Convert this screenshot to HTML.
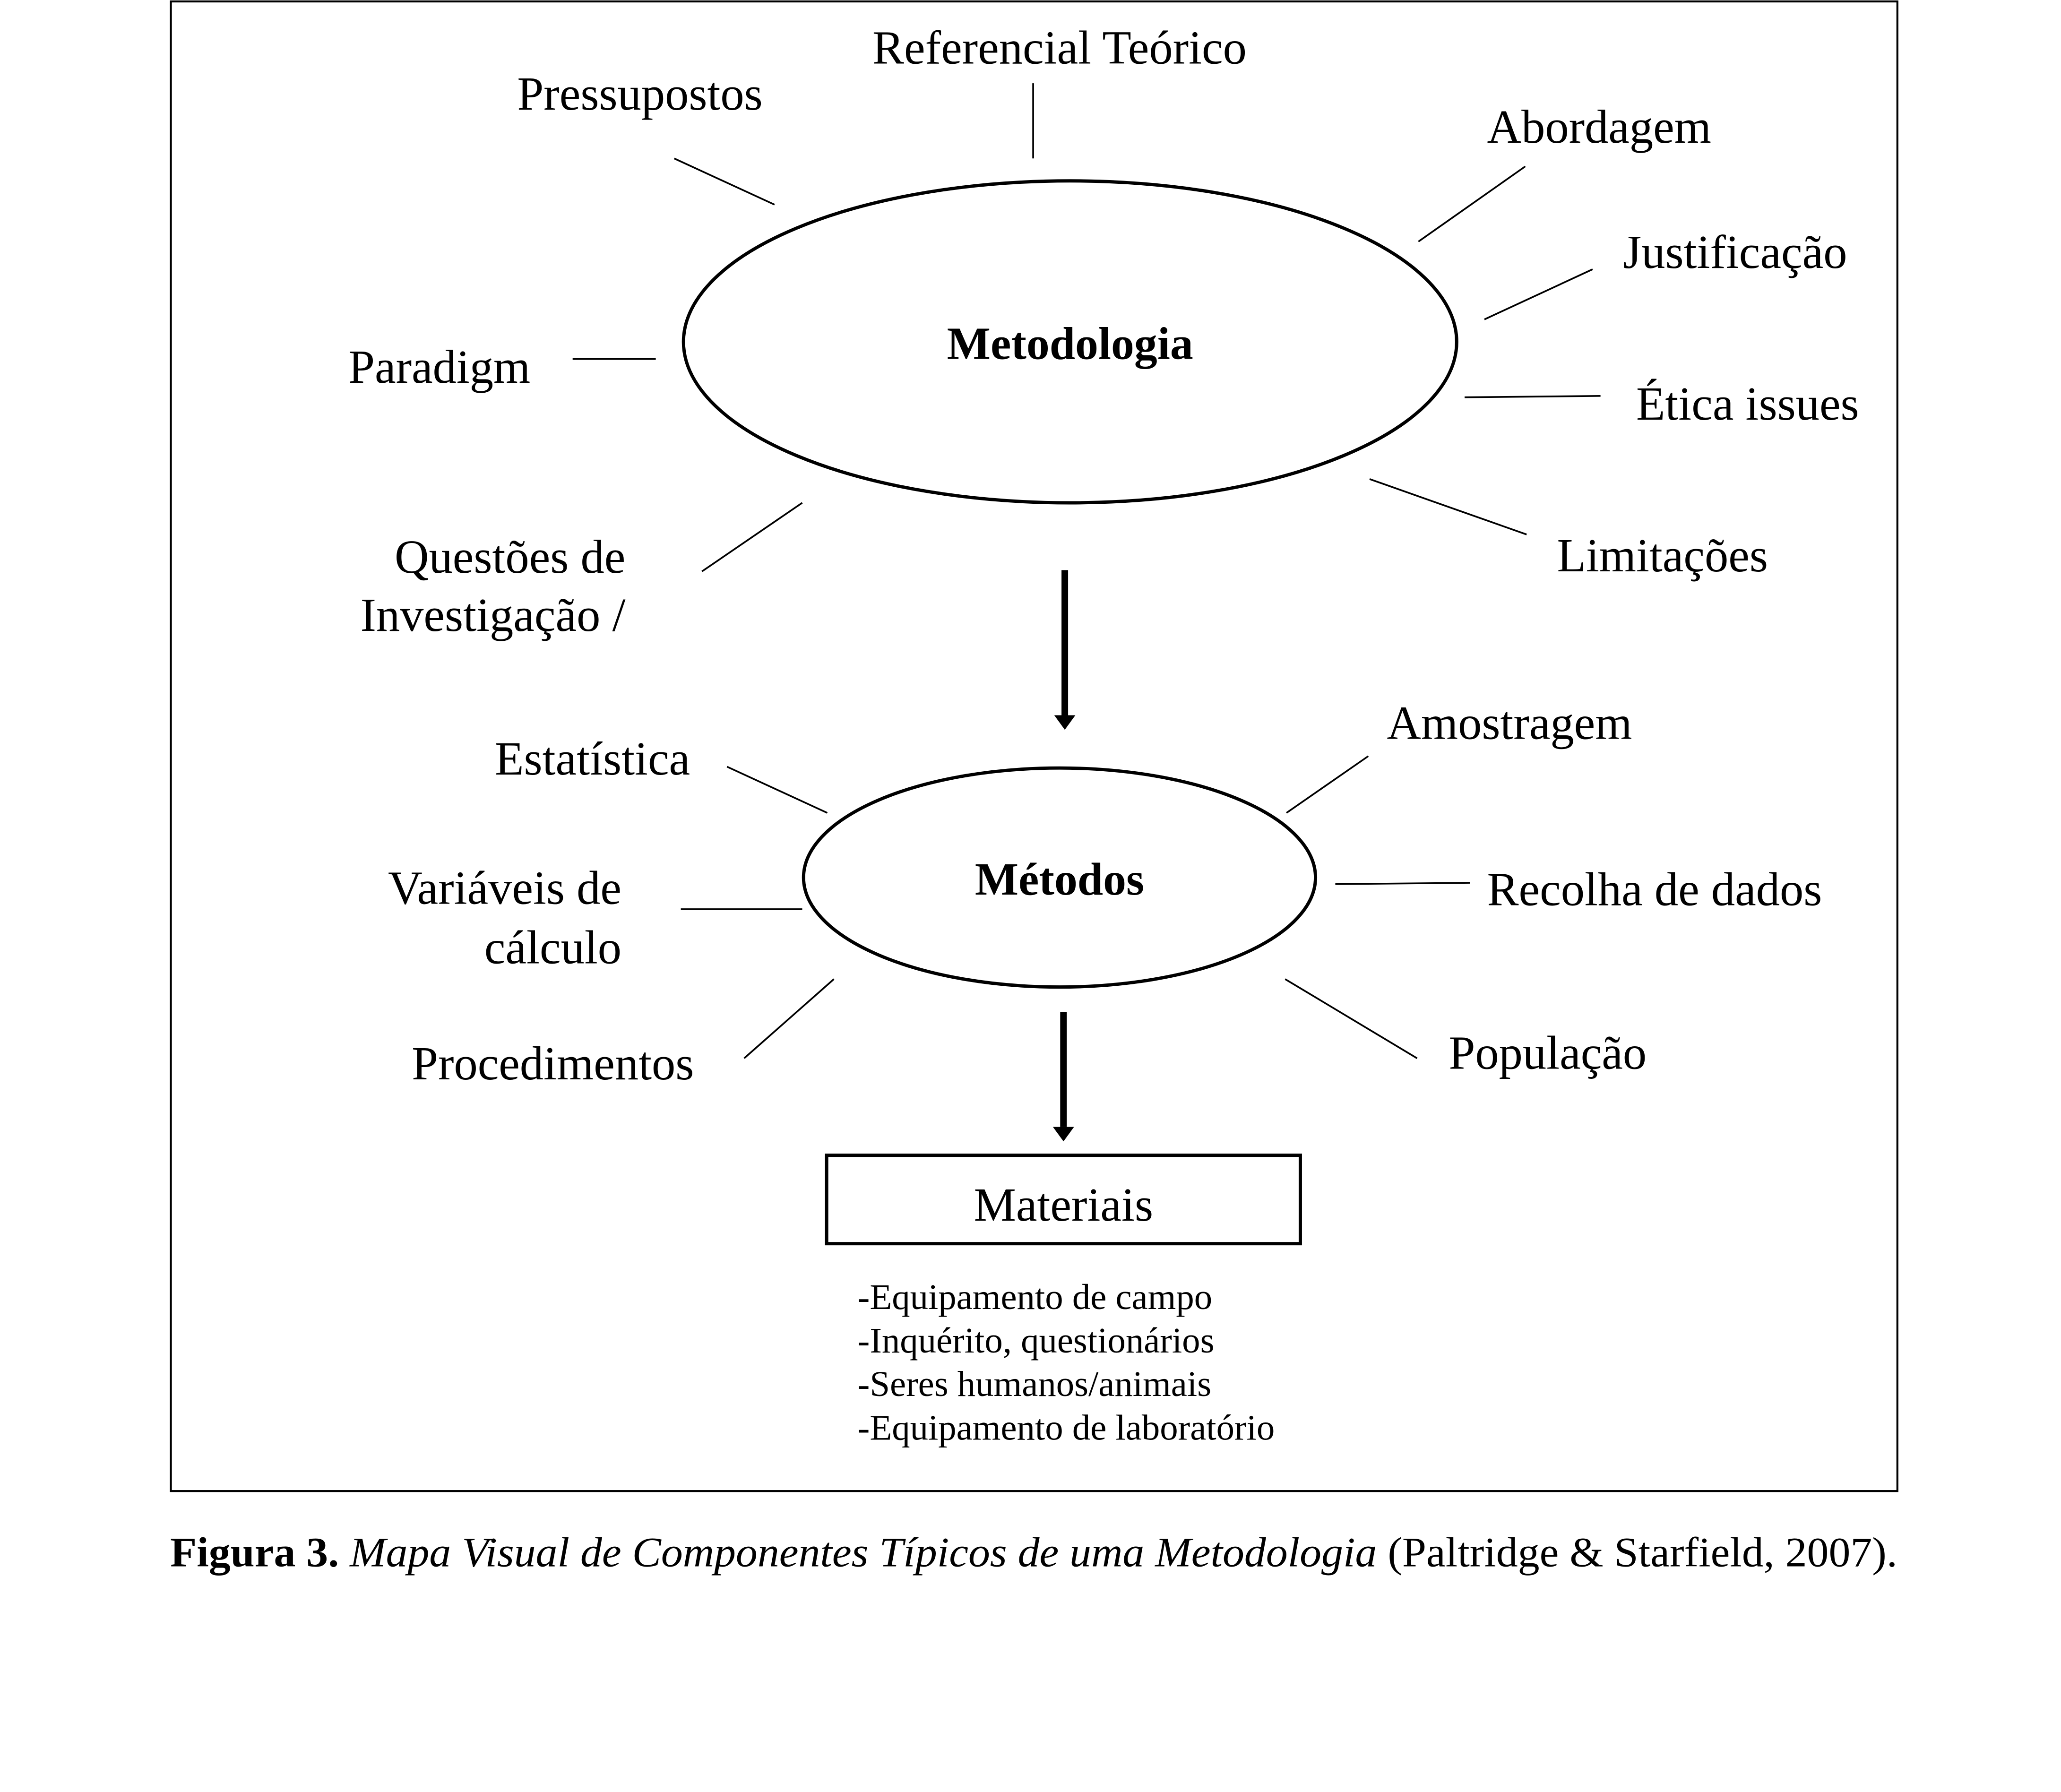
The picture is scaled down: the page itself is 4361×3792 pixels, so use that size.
<!DOCTYPE html>
<html><head><meta charset="utf-8"><style>
html,body{margin:0;padding:0;background:#fff}
svg{display:block}
text{font-family:"Liberation Serif",serif;fill:#000}
</style></head><body>
<svg width="4361" height="3792" viewBox="0 0 1562 1358" xmlns="http://www.w3.org/2000/svg">
<rect x="129.5" y="1" width="1308.5" height="1129" fill="none" stroke="#000" stroke-width="1.5"/>
<ellipse cx="811" cy="259" rx="293" ry="122" fill="none" stroke="#000" stroke-width="2.5"/>
<text x="811" y="272" font-size="35" font-weight="bold" text-anchor="middle">Metodologia</text>
<ellipse cx="803" cy="665" rx="194" ry="83" fill="none" stroke="#000" stroke-width="2.5"/>
<text x="803" y="678" font-size="35" font-weight="bold" text-anchor="middle">Métodos</text>
<rect x="626.5" y="875.5" width="359" height="67" fill="none" stroke="#000" stroke-width="2.5"/>
<text x="806" y="925" font-size="36" text-anchor="middle">Materiais</text>
<line x1="807" y1="432" x2="807" y2="542" stroke="#000" stroke-width="5"/>
<path d="M799,542 L815,542 L807,553 z" fill="#000"/>
<line x1="806" y1="767" x2="806" y2="854" stroke="#000" stroke-width="5"/>
<path d="M798,854 L814,854 L806,865 z" fill="#000"/>
<g stroke="#000" stroke-width="1.3">
<line x1="783" y1="63" x2="783" y2="120"/>
<line x1="511" y1="120" x2="587" y2="155"/>
<line x1="1075" y1="183" x2="1156" y2="126"/>
<line x1="1125" y1="242" x2="1207" y2="204"/>
<line x1="1110" y1="301" x2="1213" y2="300"/>
<line x1="1038" y1="363" x2="1157" y2="405"/>
<line x1="434" y1="272" x2="497" y2="272"/>
<line x1="532" y1="433" x2="608" y2="381"/>
<line x1="551" y1="581" x2="627" y2="616"/>
<line x1="516" y1="689" x2="608" y2="689"/>
<line x1="564" y1="802" x2="632" y2="742"/>
<line x1="975" y1="616" x2="1037" y2="573"/>
<line x1="1012" y1="670" x2="1114" y2="669"/>
<line x1="974" y1="742" x2="1074" y2="802"/>
</g>
<g font-size="36">
<text x="803" y="48" text-anchor="middle">Referencial Teórico</text>
<text x="485" y="83" text-anchor="middle">Pressupostos</text>
<text x="1127" y="108">Abordagem</text>
<text x="1230" y="203">Justificação</text>
<text x="1240" y="318">Ética issues</text>
<text x="1180" y="433">Limitações</text>
<text x="264" y="290">Paradigm</text>
<text x="474" y="434" text-anchor="end">Questões de</text>
<text x="474" y="478" text-anchor="end">Investigação /</text>
<text x="523" y="587" text-anchor="end">Estatística</text>
<text x="471" y="685" text-anchor="end">Variáveis de</text>
<text x="471" y="730" text-anchor="end">cálculo</text>
<text x="312" y="818">Procedimentos</text>
<text x="1051" y="560">Amostragem</text>
<text x="1127" y="686">Recolha de dados</text>
<text x="1098" y="810">População</text>
</g>
<g font-size="27.5">
<text x="650" y="992">-Equipamento de campo</text>
<text x="650" y="1025">-Inquérito, questionários</text>
<text x="650" y="1058">-Seres humanos/animais</text>
<text x="650" y="1091">-Equipamento de laboratório</text>
</g>
<text x="129" y="1187" font-size="32" textLength="1309" lengthAdjust="spacingAndGlyphs"><tspan font-weight="bold">Figura 3.</tspan> <tspan font-style="italic">Mapa Visual de Componentes Típicos de uma Metodologia</tspan> (Paltridge &amp; Starfield, 2007).</text>
</svg>
</body></html>
